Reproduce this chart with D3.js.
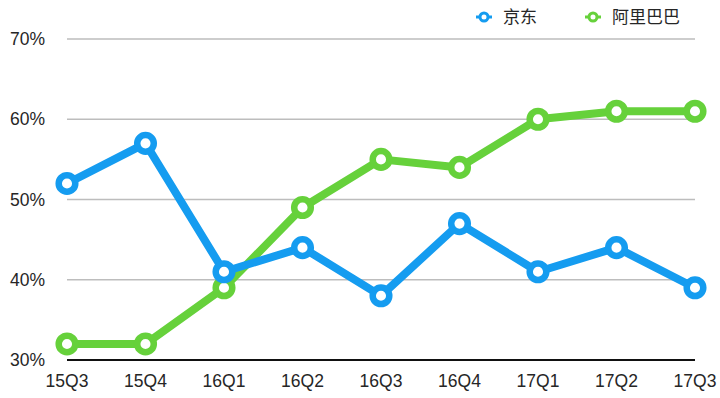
<!DOCTYPE html>
<html>
<head>
<meta charset="utf-8">
<script src="https://cdn.jsdelivr.net/npm/d3@7"></script>
<style>
  body { margin: 0; background: #fff; }
  text { font-family: "Helvetica Neue", "Liberation Sans", "Noto Sans CJK SC", sans-serif; fill: #262626; }
</style>
</head>
<body>
<div id="chart"></div>
<script>
(function () {
  'use strict';

  var quarters = ["15Q3", "15Q4", "16Q1", "16Q2", "16Q3", "16Q4", "17Q1", "17Q2", "17Q3"];
  var jd = [52, 57, 41, 44, 38, 47, 41, 44, 39];
  var ali = [32, 32, 39, 49, 55, 54, 60, 61, 61];
  var yTicks = [30, 40, 50, 60, 70];
  var seriesNames = ["京东", "阿里巴巴"];

  var colors = {
    "京东": "#159cf0",
    "阿里巴巴": "#66d13b"
  };

  var w = 720, h = 398;
  var left = 67, right = 695, top = 39, bottom = 360;

  var svg = d3.select("#chart").append("svg")
    .attr("width", w)
    .attr("height", h);

  var x = d3.scalePoint().domain(quarters).range([left, right]);
  var y = d3.scaleLinear().domain([30, 70]).range([bottom, top]);

  // grid
  svg.append("g").selectAll("line")
    .data(yTicks.slice(1))
    .enter().append("line")
    .attr("x1", left).attr("x2", right)
    .attr("y1", function (d) { return y(d); })
    .attr("y2", function (d) { return y(d); })
    .style("stroke", "#bdbdbd")
    .style("stroke-width", 1.5);

  svg.append("line")
    .attr("x1", left).attr("x2", right)
    .attr("y1", y(30)).attr("y2", y(30))
    .style("stroke", "#111")
    .style("stroke-width", 2);

  // y labels
  svg.append("g").selectAll("text")
    .data(yTicks)
    .enter().append("text")
    .attr("x", 45)
    .attr("y", function (d) { return y(d) + 6; })
    .attr("text-anchor", "end")
    .style("font-size", "17.5px")
    .text(function (d) { return d + "%"; });

  // x labels
  svg.append("g").selectAll("text")
    .data(quarters)
    .enter().append("text")
    .attr("x", function (d) { return x(d); })
    .attr("y", 387)
    .attr("text-anchor", "middle")
    .style("font-size", "17.5px")
    .text(function (d) { return d; });

  var series = [
    { name: "阿里巴巴", values: ali },
    { name: "京东", values: jd }
  ];

  var line = d3.line()
    .x(function (d, i) { return x(quarters[i]); })
    .y(function (d) { return y(d); });

  series.forEach(function (s) {
    var g = svg.append("g");
    g.append("path")
      .attr("d", line(s.values))
      .style("fill", "none")
      .style("stroke", colors[s.name])
      .style("stroke-width", 8)
      .style("stroke-linejoin", "round");
    g.selectAll("circle")
      .data(s.values)
      .enter().append("circle")
      .attr("cx", function (d, i) { return x(quarters[i]); })
      .attr("cy", function (d) { return y(d); })
      .attr("r", 8.3)
      .style("fill", "#fff")
      .style("stroke", colors[s.name])
      .style("stroke-width", 6.5);
  });

  // legend
  var legendX = [484, 593];
  var leg = svg.append("g").selectAll("g")
    .data(seriesNames)
    .enter().append("g")
    .attr("transform", function (d, i) { return "translate(" + legendX[i] + ",17)"; });
  leg.append("line")
    .attr("x1", -8).attr("x2", 8)
    .style("stroke", function (d) { return colors[d]; })
    .style("stroke-width", 3);
  leg.append("circle")
    .attr("r", 4)
    .style("fill", "#fff")
    .style("stroke", function (d) { return colors[d]; })
    .style("stroke-width", 3);
  leg.append("text")
    .attr("x", 19)
    .attr("y", 6)
    .style("font-size", "17px")
    .text(function (d) { return d; });
})();
</script>
</body>
</html>
